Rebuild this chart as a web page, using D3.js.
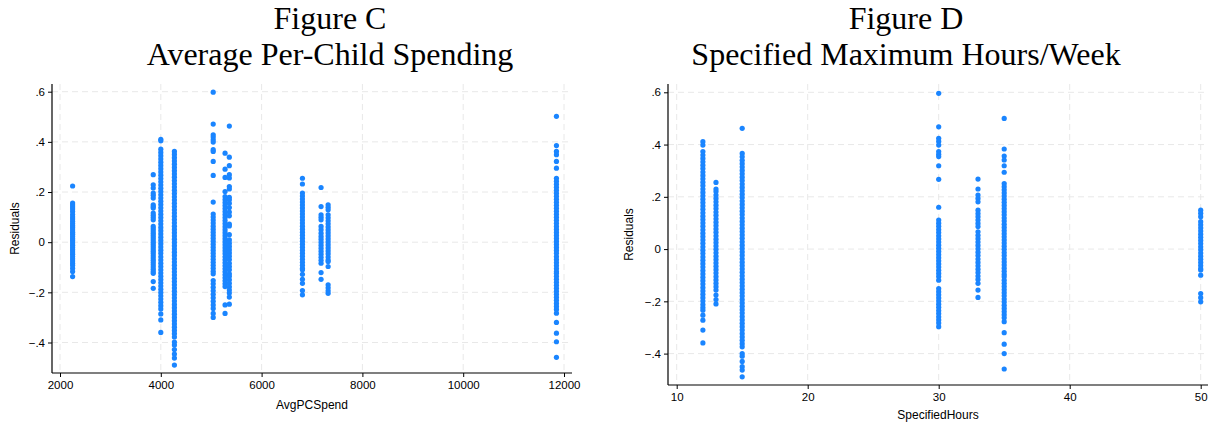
<!DOCTYPE html>
<html>
<head>
<meta charset="utf-8">
<script src="https://cdn.jsdelivr.net/npm/d3@7"></script>
<style>
  body { margin: 0; background: #fff; }
  svg { display: block; }
  .tick text { font-family: "Liberation Sans", Arial, sans-serif; font-size: 11.5px; fill: #000; }
</style>
</head>
<body>
<script>
// residual clusters
let spendX = [2250, 3850, 4000, 4270, 5040, 5275, 5360, 6810, 7180, 7320, 11850]
let spendResiduals = [
  [.224, .156, .148, .140, .132, .122, .110, .100, .092, .083, .074, .066, .058, .049, .040, .032, .023, .014, .006, -.003, -.012, -.021, -.030, -.039, -.048, -.057, -.066, -.075, -.084, -.092, -.104, -.117, -.137],
  [.269, .229, .216, .196, .187, .176, .149, .142, .136, .116, .107, .098, .089, .063, .054, .045, .036, .027, .018, .009, 0, -.009, -.018, -.027, -.036, -.045, -.054, -.063, -.072, -.081, -.090, -.099, -.108, -.117, -.124, -.157, -.184],
  [.410, .404, .371, .358, .345, .332, .319, .306, .293, .280, .267, .254, .241, .228, .215, .202, .189, .176, .163, .150, .137, .124, .111, .098, .085, .072, .059, .046, .033, .020, .007, -.006, -.019, -.032, -.045, -.058, -.071, -.084, -.097, -.110, -.123, -.136, -.149, -.162, -.175, -.188, -.201, -.214, -.227, -.240, -.253, -.266, -.286, -.310, -.360],
  [.362, .350, .337, .324, .311, .298, .285, .272, .259, .246, .233, .220, .207, .194, .181, .168, .155, .142, .129, .116, .103, .090, .077, .064, .051, .038, .025, .012, -.001, -.014, -.027, -.040, -.053, -.066, -.079, -.092, -.105, -.118, -.131, -.144, -.157, -.170, -.183, -.196, -.209, -.222, -.235, -.248, -.261, -.274, -.287, -.300, -.313, -.326, -.339, -.352, -.365, -.378, -.398, -.410, -.428, -.446, -.462, -.490],
  [.598, .471, .428, .419, .408, .399, .369, .362, .322, .266, .160, .112, .100, .088, .076, .064, .052, .040, .028, .016, .004, -.008, -.020, -.032, -.044, -.056, -.068, -.080, -.092, -.104, -.116, -.126, -.153, -.166, -.180, -.194, -.208, -.222, -.236, -.250, -.264, -.284, -.300],
  [.355, .291, .258, .202, .182, .170, .158, .146, .134, .122, .110, .098, .086, .074, .062, .050, .038, .026, .014, .002, -.010, -.022, -.034, -.046, -.058, -.070, -.082, -.094, -.106, -.118, -.130, -.142, -.154, -.166, -.177, -.250, -.284],
  [.463, .339, .305, .269, .256, .222, .212, .179, .169, .155, .138, .120, .105, .072, .065, .030, .009, -.004, -.017, -.030, -.043, -.056, -.069, -.084, -.097, -.110, -.126, -.136, -.150, -.164, -.178, -.191, -.203, -.219, -.247],
  [.255, .232, .196, .184, .172, .160, .148, .136, .124, .112, .100, .088, .076, .064, .052, .040, .028, .016, .004, -.008, -.020, -.032, -.044, -.056, -.068, -.080, -.092, -.104, -.110, -.128, -.148, -.164, -.193, -.210],
  [.218, .142, .109, .099, .089, .063, .050, .036, .023, .012, 0, -.012, -.024, -.036, -.048, -.060, -.072, -.084, -.121, -.148],
  [.149, .139, .129, .109, .097, .085, .073, .061, .049, .037, .025, .013, .001, -.011, -.023, -.035, -.047, -.059, -.071, -.077, -.097, -.170, -.182, -.194, -.204],
  [.502, .385, .362, .349, .322, .295, .255, .243, .231, .219, .207, .195, .183, .171, .159, .147, .135, .123, .111, .099, .087, .075, .063, .051, .039, .027, .015, .003, -.009, -.021, -.033, -.045, -.057, -.069, -.081, -.093, -.105, -.117, -.124, -.136, -.148, -.160, -.172, -.184, -.196, -.208, -.220, -.232, -.244, -.256, -.268, -.283, -.320, -.363, -.397, -.459]
]

let hoursX = [12, 13, 15, 30, 33, 35, 50]
let hoursResiduals = [
  [.411, .398, .373, .360, .347, .334, .321, .308, .295, .282, .269, .256, .243, .230, .217, .204, .191, .178, .165, .152, .139, .126, .113, .100, .087, .074, .061, .048, .035, .022, .009, -.004, -.017, -.030, -.043, -.056, -.069, -.082, -.095, -.108, -.121, -.134, -.147, -.160, -.173, -.186, -.199, -.212, -.224, -.234, -.253, -.272, -.310, -.359],
  [.255, .230, .220, .207, .194, .181, .168, .155, .142, .129, .116, .103, .090, .077, .064, .051, .038, .025, .012, -.001, -.014, -.027, -.040, -.053, -.066, -.079, -.092, -.105, -.118, -.131, -.144, -.157, -.176, -.193, -.210],
  [.462, .366, .353, .340, .327, .314, .301, .288, .275, .262, .249, .236, .223, .210, .197, .184, .171, .158, .145, .132, .119, .106, .093, .080, .067, .054, .041, .028, .015, .002, -.011, -.024, -.037, -.050, -.063, -.076, -.089, -.102, -.115, -.128, -.141, -.154, -.167, -.180, -.193, -.206, -.219, -.232, -.245, -.258, -.271, -.284, -.297, -.310, -.323, -.336, -.349, -.362, -.374, -.400, -.410, -.430, -.450, -.463, -.489],
  [.596, .468, .424, .412, .398, .373, .363, .354, .319, .267, .160, .111, .099, .087, .075, .063, .051, .039, .027, .015, .003, -.009, -.021, -.033, -.045, -.057, -.069, -.081, -.093, -.105, -.119, -.151, -.163, -.175, -.187, -.199, -.211, -.223, -.235, -.247, -.259, -.271, -.283, -.297],
  [.268, .230, .207, .194, .181, .149, .136, .124, .111, .098, .086, .066, .053, .040, .027, .014, .001, -.012, -.025, -.038, -.051, -.064, -.077, -.090, -.103, -.116, -.131, -.157, -.185],
  [.500, .383, .356, .341, .319, .294, .251, .239, .227, .215, .203, .191, .179, .167, .155, .143, .131, .119, .107, .095, .083, .071, .059, .047, .035, .023, .011, -.001, -.013, -.025, -.037, -.049, -.061, -.073, -.085, -.097, -.106, -.119, -.131, -.143, -.155, -.167, -.179, -.191, -.203, -.215, -.227, -.239, -.251, -.263, -.278, -.320, -.364, -.400, -.459],
  [.149, .137, .124, .105, .093, .081, .069, .057, .045, .033, .021, .009, -.003, -.015, -.027, -.039, -.051, -.063, -.075, -.080, -.100, -.170, -.186, -.202]
]

let residualTicks = [-.4, -.2, 0, .2, .4, .6]
let spendTicks = [2000, 4000, 6000, 8000, 10000, 12000]
let hoursTicks = [10, 20, 30, 40, 50]

let dotColor = '#1a85ff'
let gridColor = '#e8e8e8'
let width = 1217
let height = 427

function fmtResidual(v) {
  if (v === 0) return '0'
  return d3.format('.1f')(v).replace('0.', '.')
}

function drawPanel(svg, p) {
  let x = d3.scaleLinear().domain(p.xDomain).range(p.xRange)
  let y = d3.scaleLinear().domain([-.4, .6]).range(p.yRange)
  let g = svg.append('g')

  // titles
  p.title.forEach((t, i) => {
    g.append('text')
      .attr('x', p.titleX)
      .attr('y', 29 + i * 36)
      .attr('text-anchor', 'middle')
      .attr('font-family', '"Liberation Serif", "Times New Roman", serif')
      .attr('font-size', 32)
      .text(t)
  })

  // grid
  g.selectAll('.hgrid').data(residualTicks).enter().append('line')
    .attr('x1', p.left).attr('x2', p.right)
    .attr('y1', d => y(d)).attr('y2', d => y(d))
    .attr('stroke', gridColor).attr('stroke-dasharray', '6,4')
  g.selectAll('.vgrid').data(p.ticks).enter().append('line')
    .attr('x1', d => x(d)).attr('x2', d => x(d))
    .attr('y1', p.top).attr('y2', p.bottom)
    .attr('stroke', gridColor).attr('stroke-dasharray', '6,4')

  // points
  let pts = []
  p.xs.forEach((xv, i) => p.res[i].forEach(r => pts.push({x: xv, r: r})))
  g.selectAll('circle').data(pts).enter().append('circle')
    .attr('cx', d => x(d.x))
    .attr('cy', d => y(d.r))
    .attr('r', 2.6)
    .attr('fill', dotColor)

  // axes
  let xAxis = g.append('g')
    .attr('transform', `translate(0,${p.bottom})`)
    .call(d3.axisBottom(x).tickValues(p.ticks).tickSize(4).tickPadding(4).tickFormat(d3.format('d')))
  xAxis.select('.domain').remove()
  let yAxis = g.append('g')
    .attr('transform', `translate(${p.left},0)`)
    .call(d3.axisLeft(y).tickValues(residualTicks).tickSize(4).tickPadding(3).tickFormat(fmtResidual))
  yAxis.select('.domain').remove()
  g.selectAll('.tick line').attr('stroke', '#000')

  g.append('line')
    .attr('x1', p.left).attr('x2', p.right)
    .attr('y1', p.bottom).attr('y2', p.bottom)
    .attr('stroke', '#000').attr('stroke-width', 1.2)
  g.append('line')
    .attr('x1', p.left).attr('x2', p.left)
    .attr('y1', p.top).attr('y2', p.bottom)
    .attr('stroke', '#000').attr('stroke-width', 1.2)

  // axis titles
  g.append('text')
    .attr('x', (p.left + p.right) / 2)
    .attr('y', p.bottom + p.xTitleGap)
    .attr('text-anchor', 'middle')
    .attr('font-family', '"Liberation Sans", Arial, sans-serif')
    .attr('font-size', 12)
    .text(p.xLabel)
  g.append('text')
    .attr('transform', `translate(${p.yTitleX},${(p.top + p.bottom) / 2}) rotate(-90)`)
    .attr('text-anchor', 'middle')
    .attr('font-family', '"Liberation Sans", Arial, sans-serif')
    .attr('font-size', 12)
    .text('Residuals')
}

window.onload = function() {
  let svg = d3.select('body').append('svg')
    .attr('width', width)
    .attr('height', height)

  drawPanel(svg, {
    title: ['Figure C', 'Average Per-Child Spending'],
    titleX: 330,
    xs: spendX, res: spendResiduals, ticks: spendTicks,
    xDomain: [2000, 12000], xRange: [60, 564],
    yRange: [342.5, 91.7],
    left: 52, right: 572, top: 84, bottom: 373,
    xLabel: 'AvgPCSpend', xTitleGap: 36, yTitleX: 19
  })

  drawPanel(svg, {
    title: ['Figure D', 'Specified Maximum Hours/Week'],
    titleX: 906,
    xs: hoursX, res: hoursResiduals, ticks: hoursTicks,
    xDomain: [10, 50], xRange: [676.7, 1200.7],
    yRange: [353.6, 92.3],
    left: 668, right: 1208, top: 84, bottom: 385,
    xLabel: 'SpecifiedHours', xTitleGap: 34, yTitleX: 633
  })
}
</script>
</body>
</html>
